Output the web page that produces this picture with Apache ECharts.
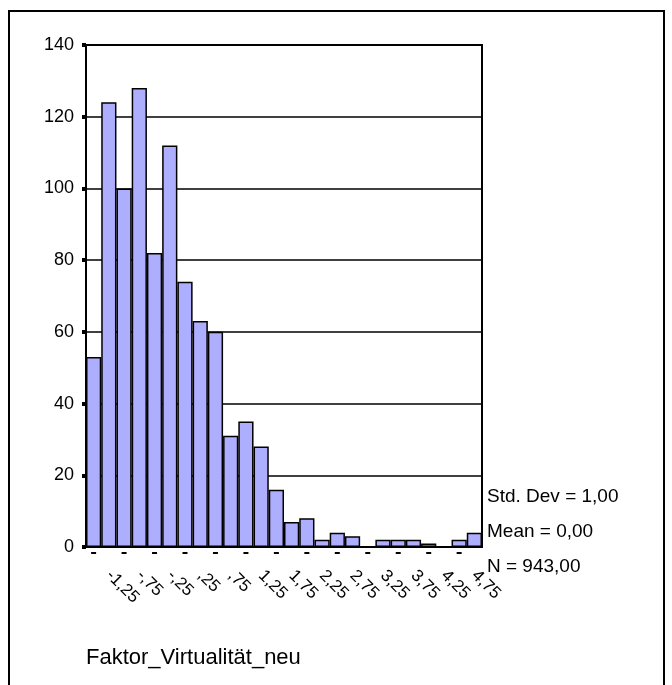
<!DOCTYPE html>
<html>
<head>
<meta charset="utf-8">
<script src="https://cdn.jsdelivr.net/npm/echarts@6/dist/echarts.min.js"></script>
<style>
  html, body { margin: 0; padding: 0; background: #fff; }
  #char1 { width: 672px; height: 685px; }
</style>
</head>
<body>
<div id="char1"></div>
<script>
// bin centres (width 0,25), SPSS style labels
const categories = ['-1,50', '-1,25', '-1,00', '-,75', '-,50', '-,25', '0,00', ',25', ',50', ',75',
    '1,00', '1,25', '1,50', '1,75', '2,00', '2,25', '2,50', '2,75', '3,00', '3,25',
    '3,50', '3,75', '4,00', '4,25', '4,50', '4,75'];
const counts = [53, 124, 100, 128, 82, 112, 74, 63, 60, 31, 35, 28, 16, 7, 8, 2, 4, 3, 0, 2, 2, 2, 1, 0, 2, 4];
const yTicks = [0, 20, 40, 60, 80, 100, 120, 140];
const stats = ['Std. Dev = 1,00', 'Mean = 0,00', 'N = 943,00'];
const axisTitle = 'Faktor_Virtualität_neu';

const font = '"Liberation Sans", Arial, sans-serif';

function char1() {
    var myChart = echarts.init(document.getElementById('char1'));

    var statTexts = stats.map(function (s, i) {
        return {
            type: 'text',
            left: 487,
            top: 487 + i * 35,
            style: { text: s, fill: '#000', font: '19px ' + font }
        };
    });

    var option = {
        animation: false,
        backgroundColor: '#fff',
        grid: {
            left: 86,
            right: 190,
            top: 45,
            bottom: 138,
            show: true,
            borderColor: '#000',
            borderWidth: 2
        },
        graphic: [{
            type: 'rect',
            shape: { x: 9, y: 11, width: 655, height: 700 },
            style: { fill: 'none', stroke: '#000', lineWidth: 2 }
        }, {
            type: 'text',
            left: 86,
            top: 647,
            style: { text: axisTitle, fill: '#000', font: '22px ' + font }
        }].concat(statTexts),
        xAxis: [{
            type: 'category',
            data: categories,
            position: 'bottom',
            axisLine: { lineStyle: { color: '#000', width: 2 } },
            axisTick: { show: false },
            axisLabel: {
                interval: 0,
                rotate: -45,
                margin: 26,
                color: '#000',
                fontFamily: font,
                fontSize: 17,
                formatter: function (v, i) { return i % 2 === 1 ? v : ''; }
            }
        }, {
            type: 'category',
            data: categories,
            position: 'bottom',
            axisLine: { show: false },
            axisTick: { show: false },
            axisLabel: {
                interval: 0,
                margin: 5,
                formatter: function (v, i) { return i % 2 === 0 ? '{d| }' : ''; },
                rich: { d: { width: 5, height: 2, backgroundColor: '#000', fontSize: 2 } }
            }
        }],
        yAxis: {
            type: 'value',
            min: yTicks[0],
            max: yTicks[yTicks.length - 1],
            interval: 20,
            axisLine: { show: true, lineStyle: { color: '#000', width: 2 } },
            axisTick: { show: true, length: 4, lineStyle: { color: '#000', width: 4 } },
            splitLine: { show: true, lineStyle: { color: '#000', width: 1.5 } },
            axisLabel: { color: '#000', fontFamily: font, fontSize: 18, margin: 12 }
        },
        series: [{
            type: 'bar',
            data: counts,
            barCategoryGap: 0,
            itemStyle: { color: '#aeaeff', borderColor: '#000', borderWidth: 1.5 }
        }]
    };

    myChart.setOption(option);
    window.addEventListener('resize', function () { myChart.resize(); });
}

char1();
</script>
</body>
</html>
